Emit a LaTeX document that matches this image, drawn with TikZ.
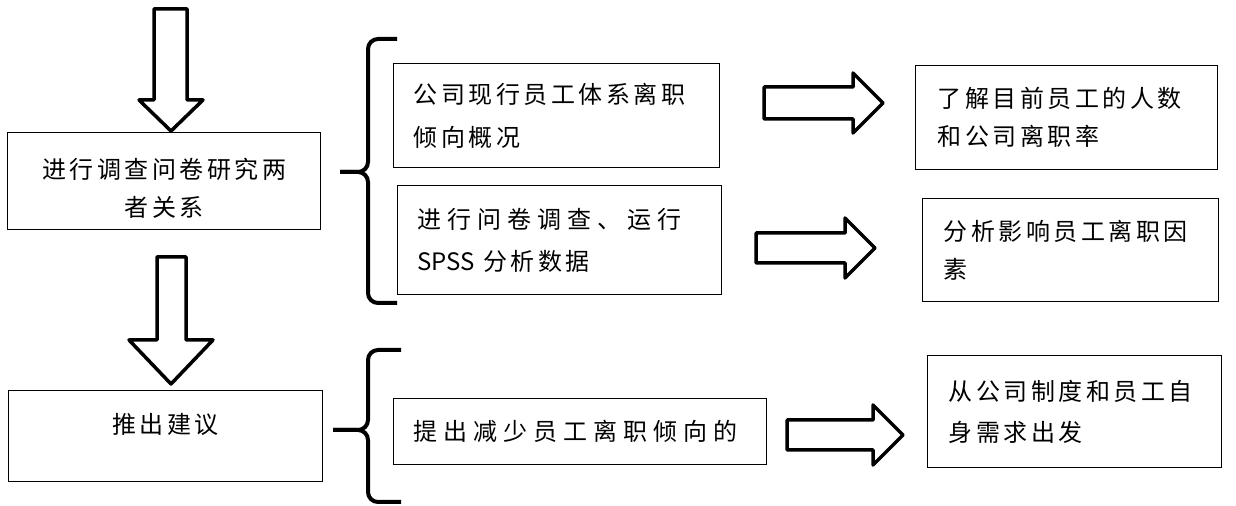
\documentclass[tikz,border=0pt]{standalone}
\usepackage{fontspec}
\newfontfamily\cjk[LetterSpace=14.6]{Noto Sans CJK SC}
\newfontfamily\cjkwide[LetterSpace=25]{Noto Sans CJK SC}
\newfontfamily\cjkplain{Noto Sans CJK SC}
\tikzset{
  box/.style={draw,line width=0.6pt,anchor=north west,inner ysep=0pt,inner xsep=10pt,
    align=left,font=\cjk\fontsize{12}{19}\selectfont},
  txt/.style={inner sep=0pt,align=center,font=\cjk\fontsize{12}{19}\selectfont},
  blockarrow/.style={draw,line width=1.75pt,line join=round},
  brace/.style={draw,line width=2pt,rounded corners=5pt},
}

\begin{document}
\begin{tikzpicture}[x=0.5pt,y=-0.5pt]
\useasboundingbox (0,0) rectangle (1236,506);
% left column
\node[box,minimum width=156.5pt,minimum height=48.5pt] (survey) at (7,132) {};
\node[txt] (surveytext) at ([yshift=-3.75pt]survey.center) {进行调查问卷研究两\\者关系};
\node[box,minimum width=157pt,minimum height=45.5pt] (advice) at (8,390) {};
\node[txt] (advicetext) at ([yshift=6pt]advice.center) {推出建议};
% middle column
\node[box,text width=143pt,minimum height=52pt,font=\cjk\fontsize{12}{21.5}\selectfont] (status) at (393,63) {公司现行员工体系离职\\倾向概况};
\node[box,text width=142pt,minimum height=54.5pt,font=\cjk\fontsize{12}{21}\selectfont] (spss) at (397,185) {{\cjkwide 进行问卷调查、运行}\\{\cjkplain SPSS} 分析数据};
\node[box,text width=166.5pt,minimum height=33pt,font=\cjkwide\fontsize{12}{19}\selectfont] (reduce) at (393,398) {提出减少员工离职倾向的};
% right column
\node[box,text width=129pt,inner xsep=11pt,minimum height=52pt] (rate) at (915,65) {了解目前员工的人数\\和公司离职率};
\node[box,text width=127pt,inner xsep=10.5pt,minimum height=51.5pt] (factor) at (922,198) {分析影响员工离职因\\素};
\node[box,text width=126pt,inner xsep=10.5pt,minimum height=56pt,font=\cjk\fontsize{12}{20.5}\selectfont] (origin) at (927,355) {从公司制度和员工自\\身需求出发};
% braces
\coordinate (tipa) at (340,172);
\coordinate (tipb) at (333,430);
\draw[brace] (tipa) -- (368,172) -- (368,39) -- (397,39);
\draw[brace] (tipa) -- (368,172) -- (368,303) -- (397,303);
\draw[brace] (tipb) -- (368,430) -- (368,350) -- (401,350);
\draw[brace] (tipb) -- (368,430) -- (368,502) -- (401,502);
% down arrows
\draw[blockarrow] (154,9) -- (187,9) -- (187,100) -- (203,100) -- (171,131) -- (139,100) -- (154,100) -- cycle;
\draw[blockarrow] (157,257) -- (186,257) -- (186,340) -- (213,340) -- (171,384) -- (129,340) -- (157,340) -- cycle;
% right arrows
\draw[blockarrow] (764,87) -- (853,87) -- (853,73) -- (883,103) -- (853,133) -- (853,119) -- (764,119) -- cycle;
\draw[blockarrow] (756,233) -- (845,233) -- (845,218) -- (875,248) -- (845,278) -- (845,263) -- (756,263) -- cycle;
\draw[blockarrow] (787,420) -- (873,420) -- (873,405) -- (903,435) -- (873,465) -- (873,450) -- (787,450) -- cycle;
\end{tikzpicture}
\end{document}
